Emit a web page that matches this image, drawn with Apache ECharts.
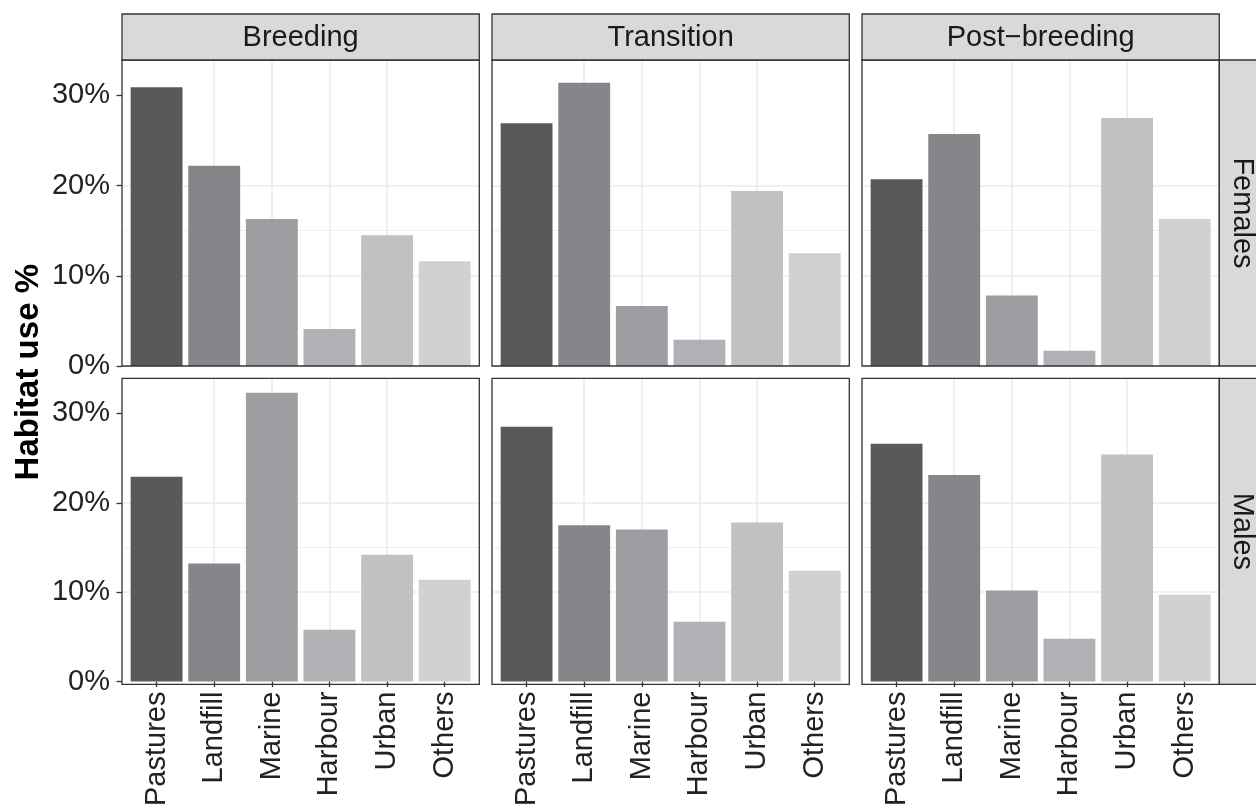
<!DOCTYPE html>
<html><head><meta charset="utf-8">
<script src="https://cdn.jsdelivr.net/npm/echarts@6/dist/echarts.min.js"></script>
<style>html,body{margin:0;padding:0;background:#fff}#c{width:1256px;height:809px}</style>
</head><body><div id="c"></div>
<script>
// ---- data ----
const categories = ['Pastures', 'Landfill', 'Marine', 'Harbour', 'Urban', 'Others'];
const periods = ['Breeding', 'Transition', 'Post\u2212breeding'];
const sexes = ['Females', 'Males'];
const yTicks = [0, 10, 20, 30];
const yMinorTicks = [5, 15, 25];
const femalesBreeding   = [30.9, 22.2, 16.3, 4.1, 14.5, 11.6];
const femalesTransition = [26.9, 31.4, 6.65, 2.9, 19.4, 12.5];
const femalesPost       = [20.7, 25.7, 7.8, 1.7, 27.5, 16.3];
const malesBreeding     = [22.9, 13.2, 32.3, 5.8, 14.2, 11.4];
const malesTransition   = [28.5, 17.5, 17.0, 6.7, 17.8, 12.4];
const malesPost         = [26.6, 23.1, 10.2, 4.8, 25.4, 9.7];

// ---- styles / layout ----
const fills = ['#58595b', '#85868a', '#9d9ea2', '#b0b1b4', '#c0c1c3', '#d0d1d3'];
const FONT = '"Liberation Sans", Arial, Helvetica, sans-serif';
const lay = { left: 122, colStep: 370, pw: 357.3, tops: [60, 378.4], ph: 306, stripH: 46, rStripW: 46 };

const panels = [
  [femalesBreeding, femalesTransition, femalesPost],
  [malesBreeding, malesTransition, malesPost]
];
let allVals = [];
panels.forEach(r => r.forEach(a => allVals = allVals.concat(a)));
const yMax = Math.max.apply(null, allVals) * 1.05;
const catPos = categories.map((_, i) => i + 1);

const grid = [], xAxis = [], yAxis = [], series = [], graphic = [];
const barW = 0.9 * lay.pw / 6.2;

for (let r = 0; r < 2; r++) {
  for (let c = 0; c < 3; c++) {
    const p = r * 3 + c;
    const left = lay.left + c * lay.colStep;
    const top = lay.tops[r];
    grid.push({ left: left, top: top, width: lay.pw, height: lay.ph, show: false, containLabel: false });
    xAxis.push({
      gridIndex: p, type: 'value', min: 0.4, max: 6.6,
      axisLine: { show: false },
      axisTick: { show: r === 1, customValues: catPos, length: 5.5, lineStyle: { color: '#333', width: 1.3 } },
      axisLabel: { show: r === 1, customValues: catPos, rotate: 90, margin: 10,
        formatter: v => categories[Math.round(v) - 1], fontSize: 29, color: '#222', fontFamily: FONT },
      splitLine: { show: true, showMinLine: false, showMaxLine: false, lineStyle: { color: '#ebebeb', width: 1.6 } }
    });
    yAxis.push({
      gridIndex: p, type: 'value', min: 0, max: yMax, interval: 10, position: 'left',
      axisLine: { show: false },
      axisTick: { show: c === 0, customValues: yTicks, length: 5.5, lineStyle: { color: '#333', width: 1.3 } },
      axisLabel: { show: c === 0, customValues: yTicks, formatter: '{value}%', margin: 12,
        fontSize: 29, color: '#222', fontFamily: FONT },
      splitLine: { show: true, showMinLine: false, showMaxLine: false, lineStyle: { color: '#ebebeb', width: 1.6 } }
    });
    yAxis.push({
      gridIndex: p, type: 'value', min: 0, max: yMax, interval: 5, position: 'right',
      axisLine: { show: false },
      axisTick: { show: false, customValues: yMinorTicks },
      axisLabel: { show: false },
      splitLine: { show: true, showMinLine: false, showMaxLine: false, lineStyle: { color: '#ededed', width: 0.9 } }
    });
    series.push({
      type: 'bar', xAxisIndex: p, yAxisIndex: 2 * p, barWidth: barW, silent: true,
      data: panels[r][c].map((v, i) => ({ value: [i + 1, v], itemStyle: { color: fills[i] } }))
    });
    // panel border
    graphic.push({ type: 'rect', z: 100, silent: true,
      shape: { x: left, y: top, width: lay.pw, height: lay.ph },
      style: { fill: 'none', stroke: '#333', lineWidth: 1.3 } });
    // top strips
    if (r === 0) {
      graphic.push({ type: 'rect', z: 100, silent: true,
        shape: { x: left, y: top - lay.stripH, width: lay.pw, height: lay.stripH },
        style: { fill: '#d9d9d9', stroke: '#333', lineWidth: 1.3 } });
      graphic.push({ type: 'text', z: 101, silent: true,
        x: left + lay.pw / 2, y: top - lay.stripH / 2 + 1,
        style: { text: periods[c], fontSize: 29, fontFamily: FONT, fill: '#1a1a1a', align: 'center', verticalAlign: 'middle' } });
    }
    // right strips
    if (c === 2) {
      const sx = left + lay.pw;
      graphic.push({ type: 'rect', z: 100, silent: true,
        shape: { x: sx, y: top, width: lay.rStripW, height: lay.ph },
        style: { fill: '#d9d9d9', stroke: '#333', lineWidth: 1.3 } });
      graphic.push({ type: 'text', z: 101, silent: true,
        x: sx + lay.rStripW / 2, y: top + lay.ph / 2, rotation: -Math.PI / 2,
        style: { text: sexes[r], fontSize: 29, fontFamily: FONT, fill: '#1a1a1a', align: 'center', verticalAlign: 'middle' } });
    }
  }
}
// y axis title
graphic.push({ type: 'text', z: 101, silent: true,
  x: 29, y: (lay.tops[0] + lay.tops[1] + lay.ph) / 2, rotation: Math.PI / 2,
  style: { text: 'Habitat use %', fontSize: 33, fontWeight: 'bold', fontFamily: FONT, fill: '#000', align: 'center', verticalAlign: 'middle' } });

const chart = echarts.init(document.getElementById('c'), null, { renderer: 'canvas' });
chart.setOption({
  animation: false,
  backgroundColor: '#fff',
  grid: grid, xAxis: xAxis, yAxis: yAxis, series: series, graphic: graphic
});
</script>
</body></html>
